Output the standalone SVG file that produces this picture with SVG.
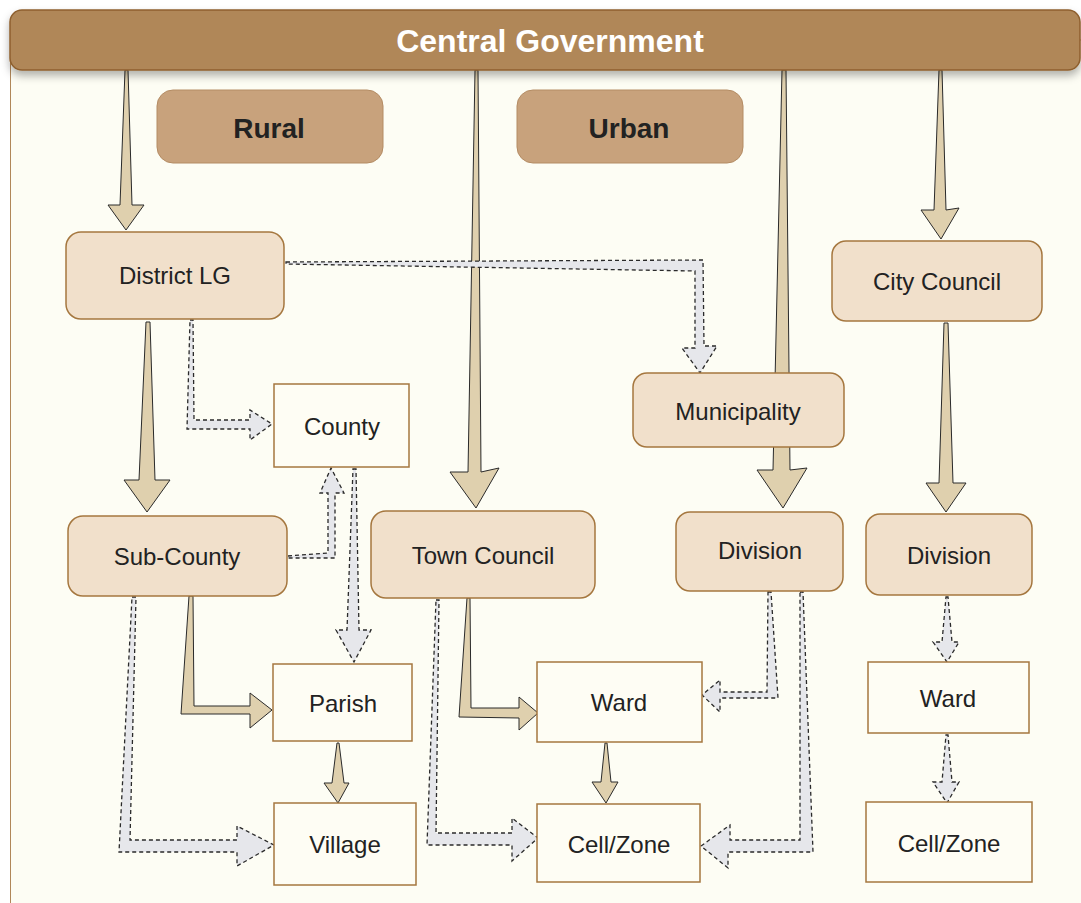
<svg xmlns="http://www.w3.org/2000/svg" width="1081" height="903" viewBox="0 0 1081 903">
<defs>
<filter id="sh" x="-5%" y="-30%" width="110%" height="180%">
<feDropShadow dx="0" dy="5" stdDeviation="4" flood-color="#000" flood-opacity="0.3"/>
</filter>
<style>
.bg{fill:#fdfdf4;stroke:#b08759;stroke-width:1}
.hdr{fill:#b08759;stroke:#8e5f2e;stroke-width:1.5}
.cat{fill:#c8a27c;stroke:#b48c64;stroke-width:1}
.org{fill:#f1e0cb;stroke:#a5773f;stroke-width:1.5}
.unit{fill:#fefdf4;stroke:#a5773f;stroke-width:1.5}
.solid{fill:#dfd0ae;stroke:#2a2a2a;stroke-width:1;stroke-linejoin:miter}
.dash{fill:#e6e7eb;stroke:#2a2a2a;stroke-width:1.3;stroke-dasharray:4 3}
text{font-family:"Liberation Sans",Arial,sans-serif;text-anchor:middle}
.t{font-size:24px;fill:#222}
.tb{font-size:28px;font-weight:bold;fill:#222}
.th{font-size:32px;font-weight:bold;fill:#fff}
</style>
</defs>
<rect class="bg" x="10.5" y="40" width="1080" height="880"/>
<g id="connectors">
<polygon class="solid" points="125,70 128,70 132,205 144,205 126,230 108,205 120,205"/>
<polygon class="solid" points="475,70 478,70 481,472 499,468 476,508 450,472 468,472"/>
<polygon class="solid" points="782,70 786,70 790,470 807,468 783,508 757,470 773,470"/>
<polygon class="solid" points="939,70 942,70 946,210 959,208 941,239 921,210 934,210"/>
<polygon class="solid" points="146,322 150,322 155,480 170,480 147,512 124,480 139,480"/>
<polygon class="solid" points="944,323 948,323 953,483 966,483 946,512 926,483 939,483"/>
<polygon class="solid" points="189,596 193,596 194,706 250,706 250,693 272,710 250,728 250,714 181,714"/>
<polygon class="solid" points="467,598 470,598 471,708 519,708 519,697 538,713 519,730 519,718 459,717"/>
<polygon class="solid" points="337,743 339,743 344,783 349,783 338,803 324,783 332,783"/>
<polygon class="solid" points="605,743 607,743 611,782 618,782 606,803 592,782 601,782"/>
<polygon class="dash" points="190,320 193,320 194,420 250,420 250,410 272,424 250,440 250,429 187,429"/>
<polygon class="dash" points="286,262 703,260 704,346 717,346 700,373 682,348 695,348 695,271 286,264"/>
<polygon class="dash" points="288,556 328,553 328,493 320,493 331,468 344,493 335,493 335,558 288,558"/>
<polygon class="dash" points="353,469 356,469 359,630 371,630 354,662 336,630 347,630"/>
<polygon class="dash" points="132,597 136,597 130,840 237,840 237,826 274,845 237,866 237,852 119,852"/>
<polygon class="dash" points="436,600 439,600 436,833 512,833 512,818 538,838 512,861 512,845 427,845"/>
<polygon class="dash" points="768,592 771,592 778,698 720,698 720,712 702,695 720,680 720,692 767,692"/>
<polygon class="dash" points="800,592 803,592 813,852 728,852 728,868 701,846 730,825 730,840 800,840"/>
<polygon class="dash" points="946,597 948,597 952,642 959,642 947,662 933,642 942,642"/>
<polygon class="dash" points="946,735 948,735 952,782 959,782 947,803 933,782 942,782"/>
</g>
<g id="central-government">
<rect class="hdr" x="10" y="10" width="1070" height="60" rx="12" filter="url(#sh)"/>
<text class="th" x="550" y="52">Central Government</text>
</g>
<g id="rural">
<rect class="cat" x="157" y="90" width="226" height="73" rx="16"/>
<text class="tb" x="269" y="138">Rural</text>
</g>
<g id="urban">
<rect class="cat" x="517" y="90" width="226" height="73" rx="16"/>
<text class="tb" x="629" y="138">Urban</text>
</g>
<g id="district-lg">
<rect class="org" x="66" y="232" width="218" height="87" rx="15"/>
<text class="t" x="175" y="284">District LG</text>
</g>
<g id="city-council">
<rect class="org" x="832" y="241" width="210" height="80" rx="14"/>
<text class="t" x="937" y="290">City Council</text>
</g>
<g id="municipality">
<rect class="org" x="633" y="373" width="211" height="74" rx="14"/>
<text class="t" x="738" y="420">Municipality</text>
</g>
<g id="county">
<rect class="unit" x="274" y="384" width="135" height="83"/>
<text class="t" x="342" y="435">County</text>
</g>
<g id="sub-county">
<rect class="org" x="68" y="516" width="219" height="80" rx="15"/>
<text class="t" x="177" y="565">Sub-County</text>
</g>
<g id="town-council">
<rect class="org" x="371" y="511" width="224" height="87" rx="15"/>
<text class="t" x="483" y="564">Town Council</text>
</g>
<g id="division-municipal">
<rect class="org" x="676" y="512" width="167" height="79" rx="14"/>
<text class="t" x="760" y="559">Division</text>
</g>
<g id="division-city">
<rect class="org" x="866" y="514" width="166" height="81" rx="14"/>
<text class="t" x="949" y="564">Division</text>
</g>
<g id="parish">
<rect class="unit" x="273" y="664" width="139" height="77"/>
<text class="t" x="343" y="712">Parish</text>
</g>
<g id="village">
<rect class="unit" x="274" y="803" width="142" height="82"/>
<text class="t" x="345" y="853">Village</text>
</g>
<g id="ward-town">
<rect class="unit" x="537" y="662" width="165" height="80"/>
<text class="t" x="619" y="711">Ward</text>
</g>
<g id="cell-zone-town">
<rect class="unit" x="537" y="804" width="163" height="78"/>
<text class="t" x="619" y="853">Cell/Zone</text>
</g>
<g id="ward-city">
<rect class="unit" x="868" y="662" width="161" height="71"/>
<text class="t" x="948" y="707">Ward</text>
</g>
<g id="cell-zone-city">
<rect class="unit" x="866" y="802" width="166" height="80"/>
<text class="t" x="949" y="852">Cell/Zone</text>
</g>
</svg>
